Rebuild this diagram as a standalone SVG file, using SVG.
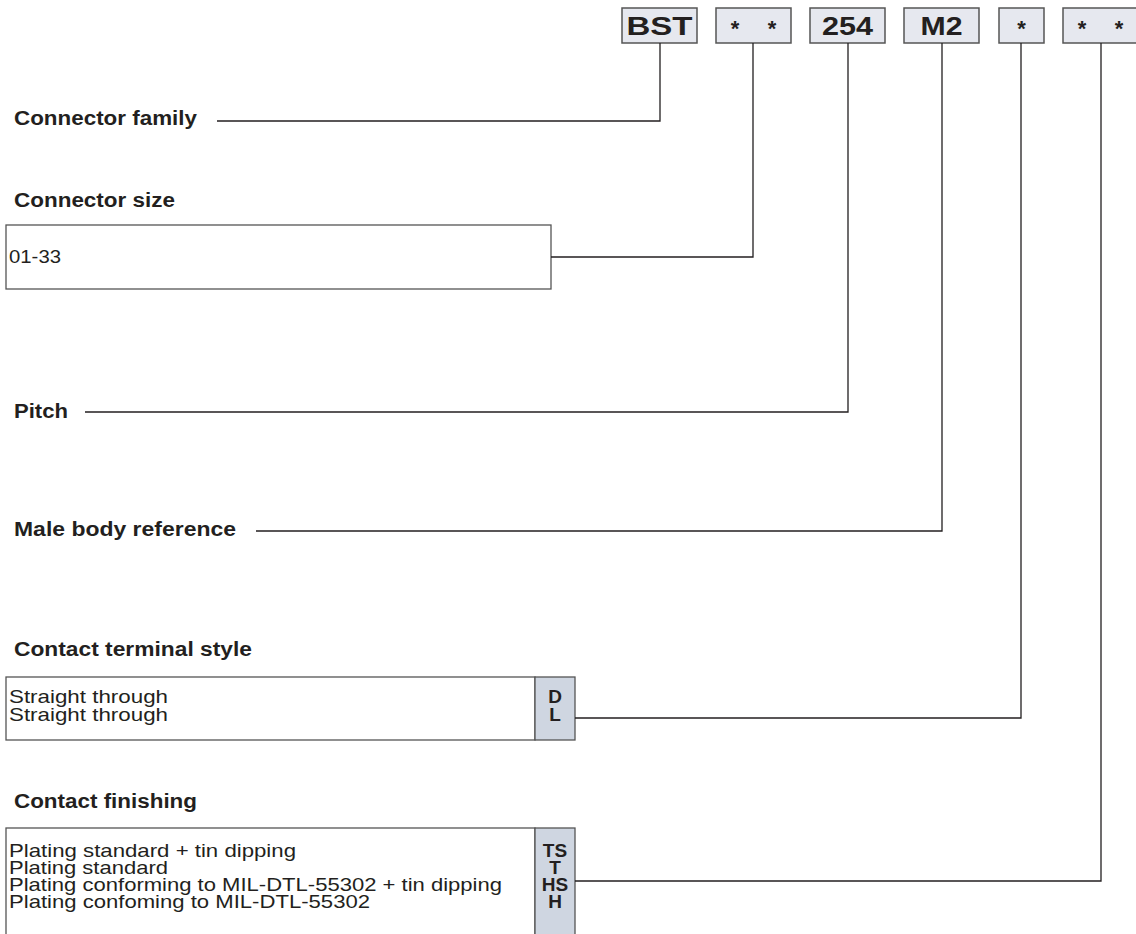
<svg xmlns="http://www.w3.org/2000/svg" width="1136" height="934" viewBox="0 0 1136 934">
<style>
.lbl{font-family:"Liberation Sans",Arial,sans-serif;font-weight:bold;font-size:19.5px;fill:#231f20}
.txt{font-family:"Liberation Sans",Arial,sans-serif;font-size:19px;fill:#231f20}
.code{font-family:"Liberation Sans",Arial,sans-serif;font-weight:bold;font-size:19px;fill:#231f20;text-anchor:middle}
.big{font-family:"Liberation Sans",Arial,sans-serif;font-weight:bold;font-size:26px;fill:#231f20;text-anchor:middle}
.ast{font-family:"Liberation Sans",Arial,sans-serif;font-weight:bold;font-size:22px;fill:#231f20;text-anchor:middle}
.pbox{fill:#e6e8ef;stroke:#555;stroke-width:1.5}
.obox{fill:#fff;stroke:#555;stroke-width:1.3}
.cbox{fill:#cfd6e1;stroke:#555;stroke-width:1.3}
.conn{fill:none;stroke:#231f20;stroke-width:1.3}
</style>
<rect width="1136" height="934" fill="#fff"/>
<g id="part-BST"><rect class="pbox" x="622" y="8" width="75" height="35"/><text class="big" x="659.5" y="35" textLength="66" lengthAdjust="spacingAndGlyphs">BST</text></g>
<g id="part-size"><rect class="pbox" x="716" y="8" width="75" height="35"/><text class="ast" x="735" y="36">*</text><text class="ast" x="772" y="36">*</text></g>
<g id="part-254"><rect class="pbox" x="810" y="8" width="75" height="35"/><text class="big" x="847.5" y="35" textLength="51" lengthAdjust="spacingAndGlyphs">254</text></g>
<g id="part-M2"><rect class="pbox" x="904" y="8" width="75" height="35"/><text class="big" x="941.5" y="35" textLength="42" lengthAdjust="spacingAndGlyphs">M2</text></g>
<g id="part-style"><rect class="pbox" x="999" y="8" width="45" height="35"/><text class="ast" x="1021.5" y="36">*</text></g>
<g id="part-finish"><rect class="pbox" x="1063" y="8" width="75" height="35"/><text class="ast" x="1082" y="36">*</text><text class="ast" x="1119" y="36">*</text></g>

<g id="family"><text class="lbl" x="14" y="125" textLength="183" lengthAdjust="spacingAndGlyphs">Connector family</text></g>
<g id="size"><text class="lbl" x="14" y="207" textLength="161" lengthAdjust="spacingAndGlyphs">Connector size</text>
<rect class="obox" x="6" y="225" width="545" height="64"/>
<text class="txt" x="9" y="263" textLength="52" lengthAdjust="spacingAndGlyphs">01-33</text></g>
<g id="pitch"><text class="lbl" x="14" y="418" textLength="54" lengthAdjust="spacingAndGlyphs">Pitch</text></g>
<g id="male"><text class="lbl" x="14" y="536" textLength="222" lengthAdjust="spacingAndGlyphs">Male body reference</text></g>
<g id="terminal"><text class="lbl" x="14" y="656" textLength="238" lengthAdjust="spacingAndGlyphs">Contact terminal style</text>
<rect class="obox" x="6" y="677" width="529" height="63"/>
<rect class="cbox" x="535" y="677" width="40" height="63"/>
<text class="txt" x="9" y="703" textLength="159" lengthAdjust="spacingAndGlyphs">Straight through</text>
<text class="txt" x="9" y="721" textLength="159" lengthAdjust="spacingAndGlyphs">Straight through</text>
<text class="code" x="555" y="703">D</text>
<text class="code" x="555" y="721">L</text></g>
<g id="finishing"><text class="lbl" x="14" y="808" textLength="183" lengthAdjust="spacingAndGlyphs">Contact finishing</text>
<rect class="obox" x="6" y="828" width="529" height="120"/>
<rect class="cbox" x="535" y="828" width="40" height="120"/>
<text class="txt" x="9" y="857" textLength="287" lengthAdjust="spacingAndGlyphs">Plating standard + tin dipping</text>
<text class="txt" x="9" y="874" textLength="159" lengthAdjust="spacingAndGlyphs">Plating standard</text>
<text class="txt" x="9" y="891" textLength="493" lengthAdjust="spacingAndGlyphs">Plating conforming to MIL-DTL-55302 + tin dipping</text>
<text class="txt" x="9" y="908" textLength="361" lengthAdjust="spacingAndGlyphs">Plating confoming to MIL-DTL-55302</text>
<text class="code" x="555" y="857">TS</text>
<text class="code" x="555" y="874">T</text>
<text class="code" x="555" y="891">HS</text>
<text class="code" x="555" y="908">H</text></g>

<g id="connectors">
<polyline class="conn" points="217,121 660,121 660,43"/>
<polyline class="conn" points="551,257 753,257 753,43"/>
<polyline class="conn" points="85,412 848,412 848,43"/>
<polyline class="conn" points="256,531 942,531 942,43"/>
<polyline class="conn" points="575,718 1021,718 1021,43"/>
<polyline class="conn" points="575,881 1101,881 1101,43"/>
</g>
</svg>
